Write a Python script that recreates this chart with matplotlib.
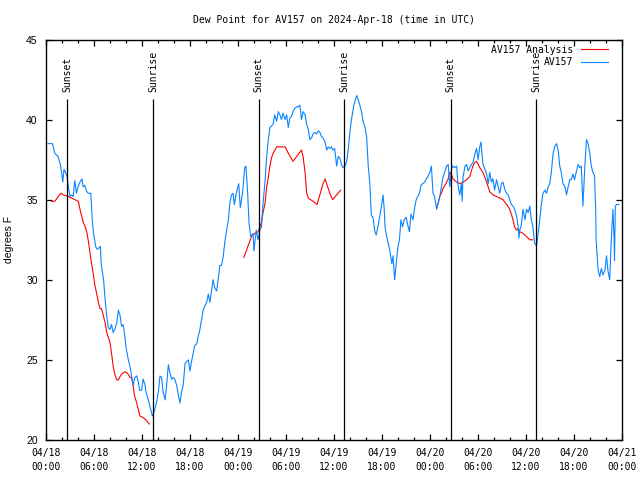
import numpy as np
import pandas as pd
import matplotlib as mpl
mpl.use('Agg')
import matplotlib.pyplot as plt
import matplotlib.dates as mdates

start = pd.Timestamp('2024-04-18 00:00')

# observed dew point (hours since start, degF)
obs_h = [0.25, 0.8, 1.1, 1.5, 1.8, 2.0, 2.1, 2.25, 2.45, 2.65, 2.8, 3.0, 3.2, 3.4, 3.6, 3.8, 4.0,
         4.25, 4.5, 4.65, 4.85, 5.1, 5.3, 5.6, 5.8, 5.95, 6.2, 6.4, 6.65, 6.8, 6.9, 7.2, 7.4, 7.6,
         7.8, 8.0, 8.2, 8.4, 8.6, 8.85, 9.05, 9.25, 9.45, 9.65, 9.8, 10.0, 10.3, 10.5, 10.7, 10.9,
         11.1, 11.35, 11.55, 11.7, 11.95, 12.15, 12.4, 12.5, 12.8, 13.0, 13.3, 13.55, 13.85, 14.05,
         14.25, 14.45, 14.65, 14.9, 15.1, 15.3, 15.5, 15.7, 15.9, 16.1, 16.35, 16.55, 16.75, 16.95,
         17.15, 17.4, 17.6, 17.8, 18.0, 18.2, 18.4, 18.6, 18.85, 19.05, 19.25, 19.45, 19.65, 19.9,
         20.1, 20.3, 20.5, 20.7, 20.9, 21.1, 21.35, 21.55, 21.75, 21.95, 22.15, 22.4, 22.6, 22.8,
         23.0, 23.2, 23.4, 23.55, 23.8, 24.1, 24.3, 24.6, 24.85, 25.0, 25.2, 25.4, 25.6, 25.9, 26.0,
         26.3, 26.5, 26.75, 26.95, 27.15, 27.4, 27.6, 27.8, 28.0, 28.2, 28.4, 28.6, 28.85, 29.05,
         29.25, 29.45, 29.65, 29.9, 30.1, 30.3, 30.5, 30.7, 30.9, 31.1, 31.35, 31.55, 31.75, 31.95,
         32.15, 32.4, 32.6, 32.8, 33.0, 33.2, 33.4, 33.6, 33.85, 34.05, 34.25, 34.45, 34.65, 34.9,
         35.1, 35.3, 35.5, 35.7, 35.9, 36.1, 36.35, 36.55, 36.75, 36.95, 37.15, 37.4, 37.6, 37.8,
         38.0, 38.2, 38.4, 38.6, 38.85, 39.05, 39.25, 39.45, 39.65, 39.9, 40.1, 40.3, 40.5, 40.7,
         40.9, 41.1, 41.3, 41.55, 41.75, 41.95, 42.15, 42.3, 42.4, 42.6, 42.8, 43.0, 43.25, 43.4,
         43.6, 43.8, 44.0, 44.2, 44.4, 44.6, 44.8, 45.05, 45.25, 45.45, 45.65, 45.9, 46.1, 46.3,
         46.5, 46.7, 46.9, 47.1, 47.35, 47.7, 48.0, 48.2, 48.4, 48.6, 48.85, 49.05, 49.25, 49.45,
         49.65, 49.9, 50.1, 50.3, 50.5, 50.7, 50.9, 51.1, 51.35, 51.55, 51.75, 51.95, 52.05, 52.15,
         52.4, 52.6, 52.8, 53.0, 53.2, 53.4, 53.6, 53.85, 54.05, 54.25, 54.4, 54.55, 54.65, 54.9,
         55.1, 55.3, 55.5, 55.7, 55.9, 56.1, 56.35, 56.55, 56.75, 56.95, 57.15, 57.4, 57.6, 57.8,
         58.0, 58.2, 58.4, 58.6, 58.85, 59.05, 59.15, 59.25, 59.45, 59.65, 59.9, 60.1, 60.3, 60.5,
         60.7, 60.9, 61.1, 61.35, 61.55, 61.75, 61.95, 62.15, 62.4, 62.6, 62.8, 63.0, 63.2, 63.4,
         63.6, 63.85, 64.05, 64.25, 64.45, 64.65, 64.9, 65.1, 65.3, 65.5, 65.7, 65.9, 66.1, 66.35,
         66.55, 66.75, 66.95, 67.15, 67.4, 67.6, 67.8, 68.0, 68.2, 68.4, 68.6, 68.75, 68.8, 69.05,
         69.25, 69.45, 69.65, 69.9, 70.1, 70.3, 70.5, 70.7, 70.9, 71.05, 71.1, 71.2, 71.35, 71.65]
obs_v = [38.5, 38.5, 37.9, 37.7, 37.2, 36.5, 36.1, 36.9, 36.7, 36.4, 35.8, 35.2, 35.3, 35.2, 36.2,
         35.4, 35.8, 36.1, 36.3, 35.8, 35.9, 35.5, 35.4, 35.4, 33.6, 32.9, 32.1, 31.9, 32.0, 32.1,
         31.0, 30.0, 28.75, 27.7, 27.0, 26.9, 27.2, 26.7, 26.9, 27.3, 28.1, 27.8, 27.1, 27.2, 26.7,
         25.8, 25.0, 24.6, 24.0, 23.4, 23.9, 24.0, 23.6, 23.1, 23.1, 23.8, 23.4, 23.0, 22.5, 22.1,
         21.5, 21.8, 22.4, 23.0, 24.0, 23.9, 23.0, 22.5, 23.5, 24.7, 24.2, 23.8, 23.9, 23.8, 23.4,
         22.8, 22.3, 23.0, 23.4, 24.8, 24.9, 25.0, 24.3, 24.9, 25.4, 25.9, 26.0, 26.5, 26.9, 27.5,
         28.1, 28.4, 28.6, 29.1, 28.6, 29.3, 30.0, 29.5, 29.3, 30.1, 30.9, 30.9, 31.4, 32.5, 33.1,
         33.7, 34.8, 35.3, 35.4, 34.7, 35.4, 36.0, 34.5, 35.5, 37.0, 37.1, 35.6, 33.5, 32.7, 32.9,
         31.8, 33.1, 32.5, 33.1, 33.3, 34.8, 36.2, 37.7, 38.75, 39.5, 39.6, 39.7, 40.3, 39.9, 40.5,
         40.3, 40.0, 40.4, 40.0, 40.3, 39.5, 40.1, 40.2, 40.5, 40.7, 40.8, 40.8, 40.9, 40.0, 40.5,
         40.3, 39.7, 39.4, 38.75, 38.85, 39.1, 39.2, 39.1, 39.3, 39.2, 38.95, 38.85, 38.6, 38.1,
         38.3, 38.2, 38.3, 38.1, 38.2, 37.1, 37.7, 37.6, 37.2, 37.0, 37.1, 37.4, 38.1, 39.2, 40.0,
         40.6, 41.1, 41.5, 41.25, 40.9, 40.5, 39.9, 39.5, 38.95, 37.1, 36.0, 34.0, 33.9, 33.1, 32.8,
         33.4, 34.0, 34.6, 35.3, 34.4, 33.3, 32.7, 32.3, 31.8, 31.0, 31.5, 30.0, 31.0, 32.0, 32.5,
         33.75, 33.3, 33.75, 33.9, 33.4, 33.0, 34.1, 33.75, 34.5, 35.0, 35.2, 35.4, 35.9, 36.0, 36.1,
         36.4, 36.7, 37.1, 35.4, 35.2, 34.4, 34.8, 35.2, 35.8, 36.4, 36.8, 37.1, 37.2, 35.8, 36.9,
         37.1, 37.0, 37.1, 35.8, 35.3, 36.0, 34.9, 36.4, 37.1, 37.2, 36.8, 37.0, 37.2, 37.3, 37.8,
         38.2, 37.5, 38.3, 38.6, 37.8, 37.2, 36.9, 36.6, 36.0, 36.7, 36.1, 36.3, 35.6, 36.25, 35.8,
         35.4, 36.0, 36.1, 35.6, 35.4, 35.3, 35.0, 34.7, 34.6, 34.4, 34.0, 33.3, 32.6, 33.1, 33.4,
         34.4, 33.75, 34.4, 34.2, 34.6, 33.75, 33.3, 32.3, 32.1, 32.9, 33.75, 34.7, 35.4, 35.6, 35.4,
         35.8, 36.0, 36.7, 37.8, 38.3, 38.5, 38.1, 37.1, 36.7, 36.0, 35.8, 35.3, 35.8, 36.25, 36.25,
         36.6, 36.25, 36.8, 37.2, 37.0, 37.1, 34.6, 37.2, 38.75, 38.5, 37.9, 37.1, 36.7, 36.5, 34.3,
         32.5, 30.6, 30.2, 30.7, 30.3, 30.6, 31.5, 30.5, 30.0, 32.5, 34.4, 32.5, 31.2, 34.6, 34.7,
         34.7]

# analysis dew point, three separate runs
ana_h = [0.7, 1.1, 1.55, 1.85, 2.15, 2.8, 3.4, 4.05, 4.25, 4.45, 4.65, 4.9, 5.1, 5.3, 5.5, 5.7,
         5.9, 6.1, 6.35, 6.55, 6.75, 6.95, 7.15, 7.4, 7.6, 7.8, 8.0, 8.2, 8.4, 8.6, 8.85, 9.05, 9.25,
         9.45, 9.65, 9.9, 10.1, 10.3, 10.5, 10.7, 10.9, 11.05, 11.35, 11.55, 11.75, 12.15, 12.6, 12.9,
         np.nan,
         24.75, 25.7, 26.1, 26.55, 26.95, 27.15, 27.4, 27.6, 27.8, 28.0, 28.2, 28.4, 28.85, 29.25,
         29.9, 30.3, 30.9, 31.35, 31.95, 32.15, 32.4, 32.6, 32.8, 33.4, 33.9, 34.25, 34.65, 34.9,
         35.1, 35.5, 35.85, 36.35, 36.85,
         np.nan,
         48.85, 49.05, 49.25, 49.45, 49.65, 49.9, 50.1, 50.3, 50.5, 50.7, 50.9, 51.35, 51.75, 52.15,
         52.6, 53.0, 53.2, 53.4, 53.6, 53.85, 54.05, 54.25, 54.65, 55.1, 55.5, 55.9, 56.35, 56.75,
         57.15, 57.6, 57.9, 58.2, 58.4, 58.6, 58.85, 59.05, 59.25, 59.65, 60.1, 60.5, 60.85]
ana_v = [34.9, 34.9, 35.2, 35.4, 35.3, 35.2, 35.05, 34.9, 34.4, 34.0, 33.6, 33.3, 33.0, 32.4, 31.7,
         31.0, 30.4, 29.7, 29.1, 28.6, 28.2, 28.2, 27.8, 27.3, 26.7, 26.4, 26.1, 25.4, 24.6, 24.1,
         23.75, 23.75, 23.95, 24.1, 24.2, 24.25, 24.2, 24.1, 23.9, 23.9, 23.4, 22.8, 22.3, 21.9,
         21.5, 21.4, 21.2, 21.0,
         np.nan,
         31.4, 32.7, 32.9, 33.0, 33.6, 34.2, 34.8, 35.8, 36.4, 37.1, 37.6, 37.9, 38.3, 38.3, 38.3,
         37.9, 37.4, 37.7, 38.1, 37.7, 36.7, 35.4, 35.1, 34.9, 34.7, 35.3, 36.0, 36.3, 36.0, 35.4,
         35.0, 35.3, 35.6,
         np.nan,
         34.5, 34.8, 35.2, 35.4, 35.7, 35.9, 36.1, 36.3, 36.7, 36.6, 36.3, 36.1, 36.0, 36.1, 36.25,
         36.45, 36.8, 37.1, 37.3, 37.4, 37.2, 37.0, 36.7, 36.1, 35.5, 35.3, 35.2, 35.1, 35.0, 34.7,
         34.5, 34.1, 33.75, 33.3, 33.1, 33.2, 33.0, 32.9, 32.7, 32.5, 32.5]

sun_times = ['2024-04-18 02:40', '2024-04-18 13:24', '2024-04-19 02:37',
             '2024-04-19 13:18', '2024-04-20 02:36', '2024-04-20 13:19']
sun_labels = ['Sunset', 'Sunrise', 'Sunset', 'Sunrise', 'Sunset', 'Sunrise']

mono = 'DejaVu Sans Mono'

obs_t = start + pd.to_timedelta(obs_h, unit='h')
ana_t = start + pd.to_timedelta(ana_h, unit='h')

fig = plt.figure(figsize=(6.4, 4.8), dpi=100)
ax = fig.add_axes([46 / 640, 40 / 480, 575.7 / 640, 400.5 / 480])

ax.plot(ana_t, ana_v, color='#ff0000', lw=0.8, label='AV157 Analysis')
ax.plot(obs_t, obs_v, color='#0a84ff', lw=0.8, label='AV157')

for t, lab in zip(sun_times, sun_labels):
    t = pd.Timestamp(t)
    ax.vlines(t, 20, 41.3, color='black', lw=0.9)
    ax.text(t, 41.75, lab, rotation=90, ha='center', va='bottom',
            fontfamily=mono, fontsize=7)

ax.set_xlim(start, start + pd.Timedelta(hours=72))
ax.set_ylim(20, 45)
ax.set_yticks([20, 25, 30, 35, 40, 45])
ax.xaxis.set_major_locator(mdates.HourLocator(byhour=[0, 6, 12, 18]))
ax.xaxis.set_minor_locator(mdates.HourLocator(byhour=range(0, 24, 2)))
ax.xaxis.set_major_formatter(mdates.DateFormatter('%m/%d\n%H:%M'))

ax.tick_params(which='both', direction='in', top=True, right=True, width=0.9)
ax.tick_params(which='major', length=4, pad=6)
ax.tick_params(which='minor', length=2)
for lab in ax.get_xticklabels():
    lab.set_fontfamily(mono)
    lab.set_fontsize(7)
    lab.set_linespacing(1.5)
for lab in ax.get_yticklabels():
    lab.set_fontfamily('Liberation Sans')
    lab.set_fontsize(7.5)
for s in ax.spines.values():
    s.set_linewidth(1.0)

ax.set_ylabel('degrees F', fontfamily='Liberation Sans', fontsize=7.5, labelpad=9)
ax.set_title('Dew Point for AV157 on 2024-Apr-18 (time in UTC)', fontfamily=mono,
             fontsize=7, pad=12)

ax.legend(loc='upper right', bbox_to_anchor=(0.983, 0.997), frameon=False, markerfirst=False,
          prop={'family': mono, 'size': 7}, handlelength=2.8, handletextpad=0.8,
          labelspacing=0.25, borderaxespad=0)

fig.savefig('out.png', dpi=100)
